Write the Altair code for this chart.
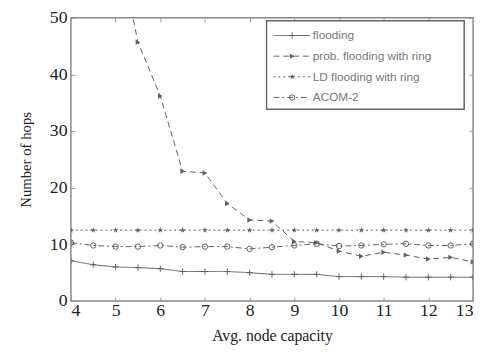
import altair as alt
import pandas as pd

x_vals = [4, 4.5, 5, 5.5, 6, 6.5, 7, 7.5, 8, 8.5, 9, 9.5, 10, 10.5, 11, 11.5, 12, 12.5, 13]
flooding = [7.1, 6.4, 6.0, 5.9, 5.7, 5.2, 5.2, 5.2, 5.0, 4.7, 4.7, 4.7, 4.3, 4.3, 4.3, 4.2, 4.2, 4.2, 4.2]
prob_x = [5, 5.5, 6, 6.5, 7, 7.5, 8, 8.5, 9, 9.5, 10, 10.5, 11, 11.5, 12, 12.5, 13]
prob = [65, 45.7, 36.2, 22.9, 22.6, 17.2, 14.3, 14.1, 10.5, 10.3, 8.8, 7.9, 8.6, 8.1, 7.4, 7.7, 6.9]
ld = [12.5, 12.5, 12.5, 12.5, 12.5, 12.5, 12.5, 12.5, 12.5, 12.5, 12.5, 12.5, 12.5, 12.5, 12.5, 12.5, 12.5, 12.5, 12.5]
acom = [10.3, 9.8, 9.6, 9.6, 9.8, 9.5, 9.6, 9.6, 9.2, 9.5, 9.8, 10.1, 9.7, 9.8, 10.0, 10.1, 9.8, 9.8, 10.1]
names = ["flooding", "prob. flooding with ring", "LD flooding with ring", "ACOM-2"]
x_ticks = [4, 5, 6, 7, 8, 9, 10, 11, 12, 13]
y_ticks = [0, 10, 20, 30, 40, 50]

W, H = 409, 288
LINE = "#606060"
xs = alt.Scale(domain=[4, 13], nice=False, zero=False)
ys = alt.Scale(domain=[0, 50], nice=False)

styles = {
    "flooding": dict(dash=[1, 0], shape="M-1,0L1,0M0,-1L0,1", filled=False, size=40),
    "prob. flooding with ring": dict(dash=[6, 4], shape="triangle-right", filled=True, size=30),
    "LD flooding with ring": dict(dash=[2, 3], shape="M0,-1L0.22,-0.31L0.95,-0.31L0.36,0.12L0.59,0.81L0,0.38L-0.59,0.81L-0.36,0.12L-0.95,-0.31L-0.22,-0.31Z", filled=True, size=40),
    "ACOM-2": dict(dash=[6, 3, 2, 3], shape="circle", filled=False, size=30),
}

series = {
    "flooding": pd.DataFrame({"x": x_vals, "y": flooding}),
    "prob. flooding with ring": pd.DataFrame({"x": prob_x, "y": prob}),
    "LD flooding with ring": pd.DataFrame({"x": x_vals, "y": ld}),
    "ACOM-2": pd.DataFrame({"x": x_vals, "y": acom}),
}

serif = "Liberation Serif"
no_x = alt.X("x:Q", scale=xs, axis=None)
no_y = alt.Y("y:Q", scale=ys, axis=None)

layers = []
for i, n in enumerate(names):
    st = styles[n]
    df = series[n]
    if i == 0:
        xenc = alt.X("x:Q", scale=xs, axis=alt.Axis(orient="bottom", values=x_ticks, format="d",
                     labelFont=serif, labelFontSize=18, labelColor="#222", labelPadding=1,
                     ticks=False, domain=False, grid=False,
                     title="Avg. node capacity", titleFont=serif, titleFontSize=16,
                     titleFontWeight="normal", titleColor="#222", titlePadding=8))
        yenc = alt.Y("y:Q", scale=ys, axis=alt.Axis(orient="left", values=y_ticks,
                     labelFont=serif, labelFontSize=18, labelColor="#222", labelPadding=4,
                     ticks=False, domain=False, grid=False,
                     title="Number of hops", titleFont=serif, titleFontSize=15,
                     titleFontWeight="normal", titleColor="#222", titlePadding=16))
    elif i == 1:
        xenc = alt.X("x:Q", scale=xs, axis=alt.Axis(orient="top", offset=-H, values=x_ticks,
                     labels=False, domain=False, grid=False, tickSize=4, tickColor="#999", title=None))
        yenc = alt.Y("y:Q", scale=ys, axis=alt.Axis(orient="right", offset=-W, values=y_ticks,
                     labels=False, domain=False, grid=False, tickSize=4, tickColor="#999", title=None))
    elif i == 2:
        xenc = alt.X("x:Q", scale=xs, axis=alt.Axis(orient="bottom", offset=-H, values=x_ticks,
                     labels=False, domain=False, grid=False, tickSize=4, tickColor="#999", title=None))
        yenc = alt.Y("y:Q", scale=ys, axis=alt.Axis(orient="left", offset=-W, values=y_ticks,
                     labels=False, domain=False, grid=False, tickSize=4, tickColor="#999", title=None))
    else:
        xenc, yenc = no_x, no_y
    line = alt.Chart(df).mark_line(color=LINE, strokeWidth=1, strokeDash=st["dash"], clip=True).encode(x=xenc, y=yenc)
    pts = alt.Chart(df).mark_point(color=LINE, shape=st["shape"], filled=st["filled"], size=st["size"],
                                   strokeWidth=1, opacity=1, clip=True).encode(x=no_x, y=no_y)
    layers += [line, pts]

# legend box
one = alt.Data(values=[{}])
layers.append(alt.Chart(one).mark_rect(fill="white", stroke="#666", strokeWidth=1.5).encode(
    x=alt.value(199), x2=alt.value(400), y=alt.value(3), y2=alt.value(93)))
leg_y = [18, 39, 60, 81]
for i, n in enumerate(names):
    st = styles[n]
    yy = leg_y[i]
    layers.append(alt.Chart(one).mark_rule(color=LINE, strokeWidth=1, strokeDash=st["dash"]).encode(
        x=alt.value(206), x2=alt.value(243), y=alt.value(yy)))
    layers.append(alt.Chart(one).mark_point(color=LINE, shape=st["shape"], filled=st["filled"], size=st["size"],
                                            strokeWidth=1, opacity=1).encode(x=alt.value(225), y=alt.value(yy)))
    layers.append(alt.Chart(one).mark_text(align="left", baseline="middle", font="Liberation Sans",
                                           fontSize=12, color="#777").encode(
        x=alt.value(246), y=alt.value(yy), text=alt.value(n)))

chart = alt.layer(*layers).resolve_axis(x="independent", y="independent").properties(
    width=W, height=H,
    autosize=alt.AutoSizeParams(type="none"),
    padding={"left": 64, "top": 7, "right": 3, "bottom": 54},
    background="white",
).configure_view(stroke="#888", strokeWidth=1.5).configure_axis(labelFont=serif, titleFont=serif)

chart.save("out.html", embed_options={"renderer": "svg", "actions": False})
